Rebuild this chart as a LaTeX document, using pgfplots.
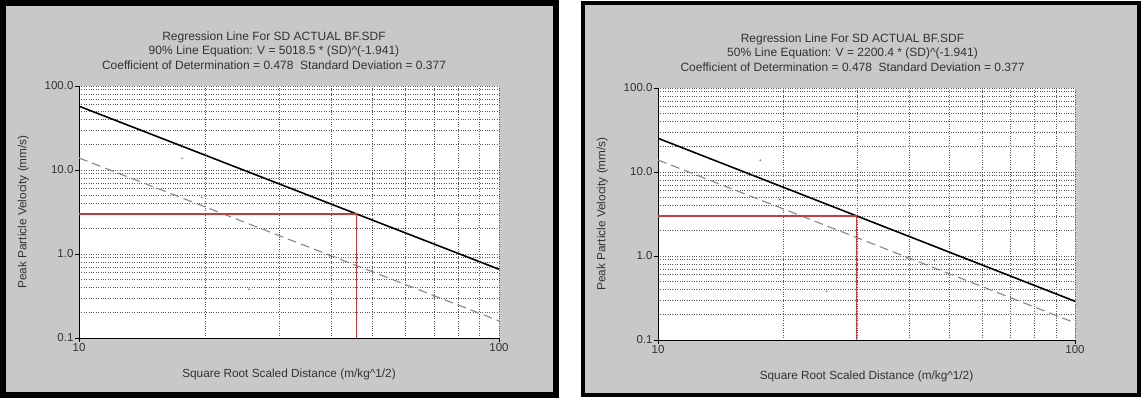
\documentclass[border=0pt]{standalone}
\usepackage{pgfplots}
\pgfplotsset{compat=1.18}
\usepackage{fontspec}
\setmainfont{Liberation Sans}
\definecolor{panelgray}{RGB}{200,200,200}
\definecolor{gridgray}{RGB}{85,85,85}
\definecolor{redline}{RGB}{196,62,62}
\definecolor{dashgray}{RGB}{135,135,135}
\definecolor{txt}{RGB}{50,50,50}
\pgfkeys{/pgf/number format/assume math mode=true}
\pgfplotsset{every axis/.append style={
    scale only axis,
    axis background/.style={fill=white},
    axis x line*=bottom, axis y line*=left,
    axis line style={black, line width=0.6pt},
    grid=both,
    major grid style={gridgray, dotted, line width=0.75pt},
    minor grid style={gridgray, dotted, line width=0.75pt},
    tick style={black, line width=0.5pt},
    major tick length=4pt, minor tick length=0pt,
    tick align=outside,
    ticklabel style={font=\fontsize{11.5}{13}\selectfont, text=txt},
    xticklabel style={yshift=2pt},
    yticklabel style={xshift=2pt},
    label style={font=\fontsize{11.8}{13}\selectfont, text=txt},
    xlabel style={yshift=-10pt},
    ylabel style={yshift=9pt},
}}
\begin{document}
\begin{tikzpicture}
\useasboundingbox (0,0) rectangle (1142pt,398pt);
\fill[white] (0,0) rectangle (1142pt,398pt);
\filldraw[fill=panelgray,draw=black,line width=6pt] (3pt,3pt) rectangle (556pt,395pt);
\filldraw[fill=panelgray,draw=black,line width=3.5pt] (583pt,3pt) rectangle (1139pt,395pt);
\begin{axis}[xmode=log, ymode=log,
  xmin=10, xmax=100, ymin=0.1, ymax=100,
  xtick={10,100}, xticklabels={10,100},
  ytick={0.1,1,10,100}, yticklabels={0.1,1.0,10.0,100.0},
  minor xtick={20,30,40,50,60,70,80,90},
  minor ytick={0.2,0.3,0.4,0.5,0.6,0.7,0.8,0.9,2,3,4,5,6,7,8,9,20,30,40,50,60,70,80,90},
  xlabel={Square Root Scaled Distance (m/kg\^{}1/2)},
  ylabel={Peak Particle Velocity (mm/s)},
  at={(79pt,60pt)}, anchor=south west, width=420pt, height=252pt,
  title style={font=\fontsize{12}{14.5}\selectfont, text=txt, align=center, xshift=-15pt, yshift=7pt},
  title={Regression Line For SD ACTUAL BF.SDF\\90\% Line Equation: V = 5018.5 * (SD)\^{}(-1.941)\\Coefficient of Determination = 0.478\ \ Standard Deviation = 0.377}]
\addplot[black, line width=1.6pt] coordinates {(10,57.5) (100,0.658)};
\addplot[dashgray, line width=1.1pt, dash pattern=on 9pt off 5pt] coordinates {(10,13.9) (100,0.16)};
\addplot[redline, line width=1.2pt] coordinates {(10,3) (45.8,3) (45.8,0.1)};
\addplot[only marks, mark=*, mark size=0.6pt, gray] coordinates {(17.6,13.8) (19.6,4.7) (25.4,0.38) (39.5,0.95) (46,0.88) (70,0.31)};
\end{axis}
\begin{axis}[xmode=log, ymode=log,
  xmin=10, xmax=100, ymin=0.1, ymax=100,
  xtick={10,100}, xticklabels={10,100},
  ytick={0.1,1,10,100}, yticklabels={0.1,1.0,10.0,100.0},
  minor xtick={20,30,40,50,60,70,80,90},
  minor ytick={0.2,0.3,0.4,0.5,0.6,0.7,0.8,0.9,2,3,4,5,6,7,8,9,20,30,40,50,60,70,80,90},
  xlabel={Square Root Scaled Distance (m/kg\^{}1/2)},
  ylabel={Peak Particle Velocity (mm/s)},
  at={(658pt,58pt)}, anchor=south west, width=417pt, height=252pt,
  title style={font=\fontsize{12}{14.5}\selectfont, text=txt, align=center, xshift=-14pt, yshift=7pt},
  title={Regression Line For SD ACTUAL BF.SDF\\50\% Line Equation: V = 2200.4 * (SD)\^{}(-1.941)\\Coefficient of Determination = 0.478\ \ Standard Deviation = 0.377}]
\addplot[black, line width=1.6pt] coordinates {(10,25.2) (100,0.289)};
\addplot[dashgray, line width=1.1pt, dash pattern=on 9pt off 5pt] coordinates {(10,13.9) (100,0.16)};
\addplot[redline, line width=1.2pt] coordinates {(10,3) (29.9,3) (29.9,0.1)};
\addplot[only marks, mark=*, mark size=0.6pt, gray] coordinates {(17.6,13.8) (19.6,4.7) (25.4,0.38) (39.5,0.95) (46,0.88) (70,0.31)};
\end{axis}
\end{tikzpicture}
\end{document}
